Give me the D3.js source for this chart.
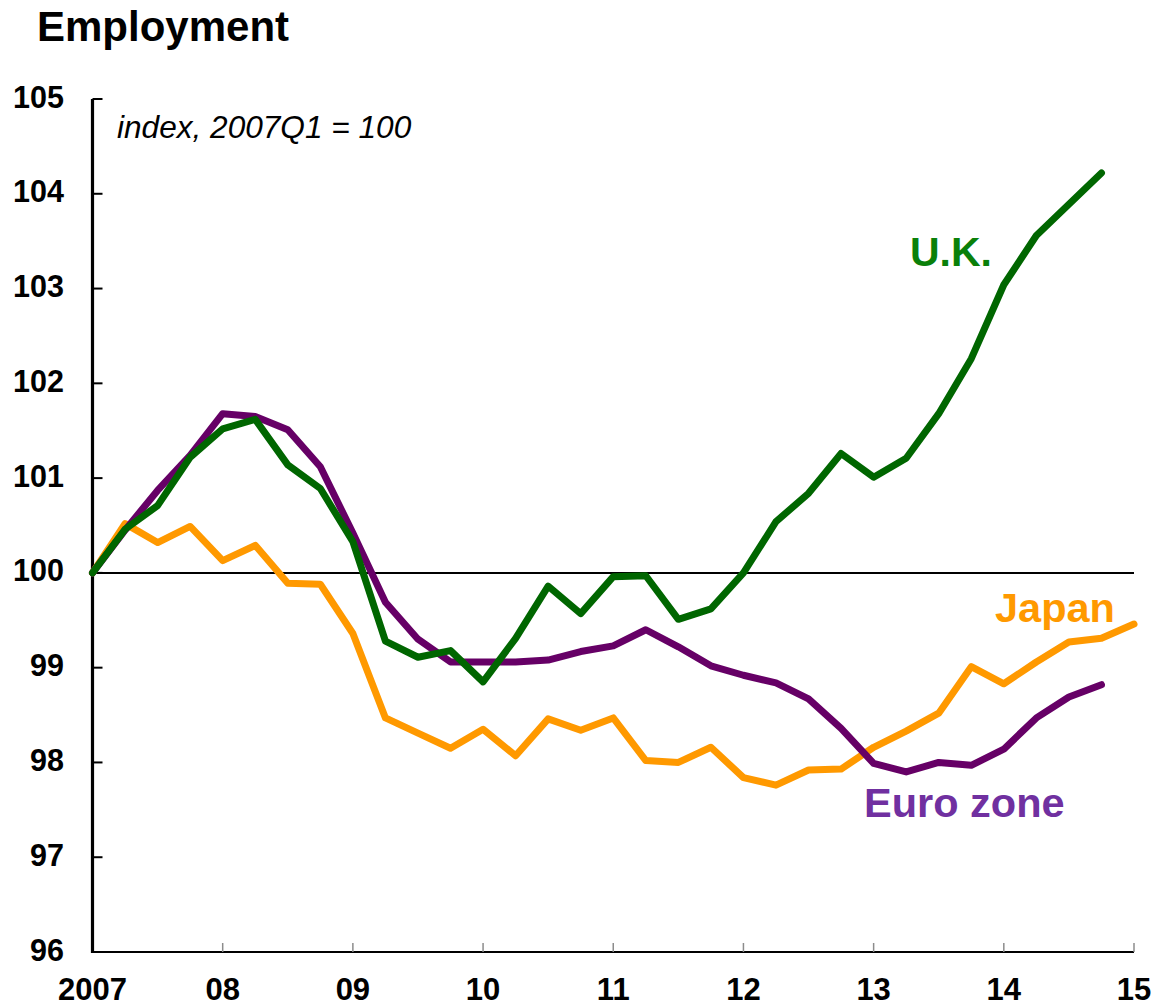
<!DOCTYPE html>
<html>
<head>
<meta charset="utf-8">
<script src="https://cdn.jsdelivr.net/npm/d3@7"></script>
<style>
  html, body { margin: 0; padding: 0; background: #fff; }
  svg { display: block; font-family: "Liberation Sans", Arial, Helvetica, sans-serif; }
</style>
</head>
<body>
<svg id="chart" width="1156" height="1007"></svg>
<script>
// Quarterly data, 2007Q1 .. 2015Q1 (index, 2007Q1 = 100)
const startYear = 2007;
const ukValues = [100, 100.46, 100.71, 101.22, 101.52, 101.62, 101.14, 100.89, 100.33, 99.28, 99.11, 99.18, 98.85, 99.31, 99.86, 99.57, 99.96, 99.97, 99.51, 99.62, 100.0, 100.54, 100.84, 101.26, 101.01, 101.21, 101.68, 102.26, 103.04, 103.56, 103.89, 104.22];
const euroValues = [100, 100.45, 100.87, 101.24, 101.68, 101.65, 101.51, 101.12, 100.42, 99.69, 99.30, 99.06, 99.06, 99.06, 99.08, 99.17, 99.23, 99.40, 99.22, 99.02, 98.92, 98.84, 98.67, 98.36, 97.99, 97.90, 98.00, 97.97, 98.14, 98.47, 98.69, 98.82];
const japanValues = [100, 100.52, 100.32, 100.49, 100.13, 100.29, 99.89, 99.88, 99.36, 98.47, 98.31, 98.15, 98.35, 98.07, 98.46, 98.34, 98.47, 98.02, 98.00, 98.16, 97.84, 97.76, 97.92, 97.93, 98.16, 98.33, 98.52, 99.01, 98.83, 99.06, 99.27, 99.31, 99.46];
const xTickYears = [2007, 2008, 2009, 2010, 2011, 2012, 2013, 2014, 2015];
const xTickLabels = ["2007", "08", "09", "10", "11", "12", "13", "14", "15"];
const yTicks = [96, 97, 98, 99, 100, 101, 102, 103, 104, 105];

const svg = d3.select("#chart");
const x = d3.scaleLinear().domain([2007, 2015]).range([92.5, 1134]);
const y = d3.scaleLinear().domain([96, 105]).range([952, 99]);

const toPoints = vals => vals.map((v, i) => ({ t: startYear + i / 4, v }));
const line = d3.line().x(d => x(d.t)).y(d => y(d.v));

// Title
svg.append("text").attr("x", 37).attr("y", 41)
  .attr("font-size", 42).attr("font-weight", "bold").attr("fill", "#000")
  .text("Employment");

// Subtitle
svg.append("text").attr("x", 117).attr("y", 138)
  .attr("font-size", 31.6).attr("font-style", "italic").attr("fill", "#000")
  .text("index, 2007Q1 = 100");

// X axis line
svg.append("line").attr("x1", x(2007)).attr("x2", x(2015))
  .attr("y1", y(96)).attr("y2", y(96))
  .attr("stroke", "#000").attr("stroke-width", 2);

// X ticks (gray, upward)
svg.selectAll(".xtick").data(xTickYears.slice(1)).enter().append("line")
  .attr("x1", d => x(d)).attr("x2", d => x(d))
  .attr("y1", y(96)).attr("y2", y(96) - 9)
  .attr("stroke", "#8c8c8c").attr("stroke-width", 1.5);

// X labels
svg.selectAll(".xlab").data(xTickYears).enter().append("text")
  .attr("x", d => x(d)).attr("y", 1000)
  .attr("text-anchor", "middle").attr("font-size", 31).attr("font-weight", "bold")
  .text((d, i) => xTickLabels[i]);

// Y axis line
svg.append("line").attr("x1", x(2007)).attr("x2", x(2007))
  .attr("y1", y(105)).attr("y2", y(96) + 1)
  .attr("stroke", "#000").attr("stroke-width", 3.2);

// Y ticks (inward)
svg.selectAll(".ytick").data(yTicks).enter().append("line")
  .attr("x1", x(2007)).attr("x2", x(2007) + 10)
  .attr("y1", d => y(d)).attr("y2", d => y(d))
  .attr("stroke", "#000").attr("stroke-width", 2);

// Y labels
svg.selectAll(".ylab").data(yTicks).enter().append("text")
  .attr("x", 64).attr("y", d => y(d) + 8.5)
  .attr("text-anchor", "end").attr("font-size", 30.5).attr("font-weight", "bold")
  .text(d => d);

// Reference line at 100
svg.append("line").attr("x1", x(2007)).attr("x2", x(2015))
  .attr("y1", y(100)).attr("y2", y(100))
  .attr("stroke", "#000").attr("stroke-width", 2);

// Series lines
const series = [
  { vals: japanValues, color: "#FF9900" },
  { vals: euroValues, color: "#660066" },
  { vals: ukValues, color: "#006600" }
];
series.forEach(s => {
  svg.append("path").datum(toPoints(s.vals))
    .attr("d", line).attr("fill", "none")
    .attr("stroke", s.color).attr("stroke-width", 7)
    .attr("stroke-linejoin", "round").attr("stroke-linecap", "round");
});

// Series labels
svg.append("text").attr("x", 910).attr("y", 266)
  .attr("font-size", 41).attr("font-weight", "bold").attr("fill", "#0A800A").text("U.K.");
svg.append("text").attr("x", 995).attr("y", 622)
  .attr("font-size", 41.5).attr("font-weight", "bold").attr("fill", "#FF9900").text("Japan");
svg.append("text").attr("x", 864).attr("y", 817)
  .attr("font-size", 41.5).attr("font-weight", "bold").attr("fill", "#7030A0").text("Euro zone");
</script>
</body>
</html>
